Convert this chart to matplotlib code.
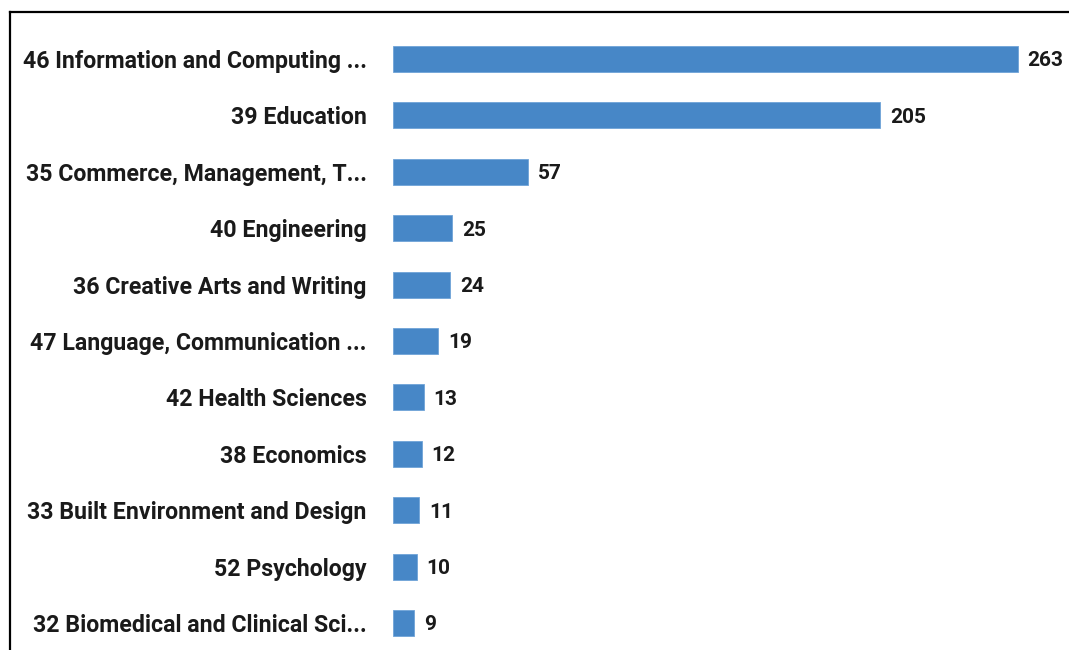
"""
Horizontal bar chart of publication counts by field of research.
"""

import matplotlib.pyplot as plt
from matplotlib.lines import Line2D

# data, top to bottom
fields = [
    "46 Information and Computing ...",
    "39 Education",
    "35 Commerce, Management, T...",
    "40 Engineering",
    "36 Creative Arts and Writing",
    "47 Language, Communication ...",
    "42 Health Sciences",
    "38 Economics",
    "33 Built Environment and Design",
    "52 Psychology",
    "32 Biomedical and Clinical Sci...",
]
counts = [263, 205, 57, 25, 24, 19, 13, 12, 11, 10, 9]

bar_color = '#4787c7'

plt.rcParams['font.family'] = ['Roboto', 'DejaVu Sans']

W, H = 1069, 650
fig = plt.figure(figsize=(W / 100, H / 100), dpi=100)

# axes placed so bars start at x=393 px
x0 = 393
ax = fig.add_axes([x0 / W, 0, (W - x0) / W, 1])

px_per_unit = (1018 - x0) / 263
row_px = 56.4
first_row = 59

positions = list(range(len(fields)))
ax.barh(positions, counts, height=26 / row_px, color=bar_color,
        edgecolor='#6fa3d8', linewidth=0.6)

ax.set_xlim(0, (W - x0) / px_per_unit)
ax.set_ylim(len(fields) - 1 + (H - first_row - (len(fields) - 1) * row_px) / row_px,
            -first_row / row_px)

ax.set_yticks(positions)
ax.set_yticklabels(fields, fontsize=16.7, fontweight='bold', color='#1a1a1a')
ax.tick_params(axis='y', length=0, pad=19)
ax.set_xticks([])
for side in ax.spines.values():
    side.set_visible(False)

# value labels at bar ends
for pos, val in zip(positions, counts):
    ax.annotate(str(val), (val, pos), xytext=(7, 0), textcoords='offset points',
                va='center_baseline', ha='left', fontsize=15, fontweight='bold',
                color='#1a1a1a')

# partial frame (left and top edges)
fig.add_artist(Line2D([10 / W, 10 / W], [0, 1 - 12 / H], transform=fig.transFigure,
                      color='black', linewidth=1.6))
fig.add_artist(Line2D([10 / W, 1], [1 - 12 / H, 1 - 12 / H], transform=fig.transFigure,
                      color='black', linewidth=1.6))

fig.savefig('out.png', dpi=100)
